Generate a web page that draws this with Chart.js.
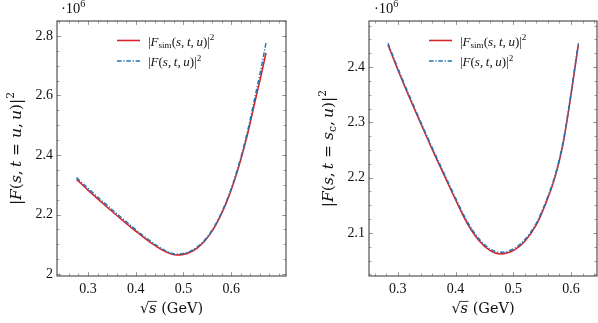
<!DOCTYPE html>
<html>
<head>
<meta charset="utf-8">
<script src="https://cdn.jsdelivr.net/npm/chart.js@4.4.0/dist/chart.umd.min.js"></script>
<style>
  html, body { margin: 0; padding: 0; background: #fff; }
  #wrap { position: relative; width: 598px; height: 323px; }
  canvas { position: absolute; top: 0; }
</style>
</head>
<body>
<div id="wrap">
  <canvas id="left" width="299" height="323" style="left:0"></canvas>
  <canvas id="right" width="299" height="323" style="left:299px"></canvas>
</div>
<script>
// Left panel: t = u
const leftX = [0.276, 0.30, 0.325, 0.35, 0.375, 0.40, 0.42, 0.44, 0.455, 0.465, 0.475, 0.485, 0.50, 0.515, 0.53, 0.545, 0.56, 0.575, 0.59, 0.605, 0.62, 0.635, 0.65, 0.662, 0.673];
const leftSim = [2.318, 2.282, 2.246, 2.211, 2.177, 2.144, 2.119, 2.096, 2.081, 2.073, 2.067, 2.064, 2.066, 2.074, 2.089, 2.112, 2.144, 2.187, 2.240, 2.305, 2.383, 2.474, 2.580, 2.662, 2.743];
const leftFull = [2.324, 2.288, 2.252, 2.217, 2.183, 2.149, 2.124, 2.100, 2.085, 2.076, 2.070, 2.067, 2.069, 2.077, 2.092, 2.115, 2.147, 2.190, 2.244, 2.310, 2.390, 2.484, 2.595, 2.685, 2.776];

// Right panel: t = s_c
const rightX = [0.283, 0.298, 0.32, 0.34, 0.36, 0.38, 0.40, 0.42, 0.44, 0.46, 0.477, 0.50, 0.52, 0.54, 0.555, 0.572, 0.585, 0.5926, 0.600, 0.607, 0.6127];
const rightSim = [2.440, 2.400, 2.345, 2.297, 2.250, 2.205, 2.160, 2.118, 2.087, 2.068, 2.062, 2.068, 2.085, 2.115, 2.150, 2.200, 2.255, 2.300, 2.350, 2.400, 2.440];
const rightFull = [2.443, 2.403, 2.348, 2.300, 2.253, 2.208, 2.163, 2.121, 2.090, 2.071, 2.065, 2.071, 2.088, 2.118, 2.153, 2.203, 2.258, 2.303, 2.353, 2.403, 2.443];

// tick labels
const leftXTicks = [0.3, 0.4, 0.5, 0.6];
const leftYTicks = [2, 2.2, 2.4, 2.6, 2.8];
const leftYLabels = ['2', '2.2', '2.4', '2.6', '2.8'];
const rightXTicks = [0.3, 0.4, 0.5, 0.6];
const rightYTicks = [2.1, 2.2, 2.3, 2.4];
const rightYLabels = ['2.1', '2.2', '2.3', '2.4'];

const RED = '#d7262c';
const BLUE = '#1f77b4';
const SERIF = '"Liberation Serif", "DejaVu Serif", serif';
const WIDE = '"DejaVu Serif", serif';

function range(a, b, step) {
  const out = [];
  for (let v = a; v <= b + 1e-9; v += step) out.push(Math.round(v * 1000) / 1000);
  return out;
}

// math text as pieces: [text, kind] with kind r / i / sub / sup
function fontFor(k, size, fam) {
  const fs = (k === 'sub' || k === 'sup') ? size * 0.7 : size;
  return (k === 'i' ? 'italic ' : '') + fs + 'px ' + fam;
}
function mathWidth(ctx, parts, size, fam) {
  let w = 0;
  for (const [t, k] of parts) {
    ctx.font = fontFor(k, size, fam);
    w += ctx.measureText(t).width;
  }
  return w;
}
function drawMath(ctx, parts, x, y, size, fam) {
  let cx = x;
  for (const [t, k] of parts) {
    let dy = 0;
    if (k === 'sub') dy = size * 0.22;
    if (k === 'sup') dy = -size * 0.42;
    ctx.font = fontFor(k, size, fam);
    ctx.fillText(t, cx, y + dy);
    cx += ctx.measureText(t).width;
  }
  return cx - x;
}

const legendSim = [['|', 'r'], ['F', 'i'], ['sim', 'sub'], ['(', 'r'], ['s', 'i'], [',\u2009', 'r'], ['t', 'i'], [',\u2009', 'r'], ['u', 'i'], [')|', 'r'], ['2', 'sup']];
const legendFull = [['|', 'r'], ['F', 'i'], ['(', 'r'], ['s', 'i'], [',\u2009', 'r'], ['t', 'i'], [',\u2009', 'r'], ['u', 'i'], [')|', 'r'], ['2', 'sup']];

function decor(o) {
  return {
    id: 'decor',
    afterDraw(chart) {
      const { ctx, chartArea: a, scales: { x, y } } = chart;
      ctx.save();
      // ticks inside the frame on all four sides
      ctx.strokeStyle = '#8a8a8a';
      ctx.lineWidth = 0.8;
      const tick = (vals, len) => {
        ctx.beginPath();
        vals.forEach(v => {
          if (v < x.min || v > x.max) return;
          const p = Math.round(x.getPixelForValue(v)) + 0.5;
          ctx.moveTo(p, a.bottom); ctx.lineTo(p, a.bottom - len);
          ctx.moveTo(p, a.top); ctx.lineTo(p, a.top + len);
        });
        ctx.stroke();
      };
      const ytick = (vals, len) => {
        ctx.beginPath();
        vals.forEach(v => {
          if (v < y.min || v > y.max) return;
          const p = Math.round(y.getPixelForValue(v)) + 0.5;
          ctx.moveTo(a.left, p); ctx.lineTo(a.left + len, p);
          ctx.moveTo(a.right, p); ctx.lineTo(a.right - len, p);
        });
        ctx.stroke();
      };
      tick(o.xMinor, 2.5); tick(o.xMajor, 4);
      ytick(o.yMinor, 2.5); ytick(o.yMajor, 4);

      // frame
      ctx.strokeStyle = '#444';
      ctx.lineWidth = 1.1;
      ctx.strokeRect(a.left, a.top, a.right - a.left, a.bottom - a.top);

      ctx.fillStyle = '#111';
      ctx.textBaseline = 'alphabetic';
      ctx.textAlign = 'left';

      // multiplier
      drawMath(ctx, [['\u00b710', 'r'], ['6', 'sup']], o.multX, 13, 14.5, SERIF);

      // y title
      ctx.save();
      ctx.translate(o.yTitleX, (a.top + a.bottom) / 2);
      ctx.rotate(-Math.PI / 2);
      const yw = mathWidth(ctx, o.yTitle, 15.5, WIDE);
      drawMath(ctx, o.yTitle, -yw / 2, 0, 15.5, WIDE);
      ctx.restore();

      // x title: sqrt(s) (GeV)
      const xs = 14.5;
      const xparts = [['\u221a', 'r'], ['s', 'i'], [' (GeV)', 'r']];
      const xw = mathWidth(ctx, xparts, xs, WIDE);
      const x0 = (a.left + a.right) / 2 - xw / 2;
      ctx.font = xs + 'px ' + WIDE;
      const rw = ctx.measureText('\u221a').width;
      ctx.font = 'italic ' + xs + 'px ' + WIDE;
      const sw = ctx.measureText('s').width;
      drawMath(ctx, xparts, x0, 313, xs, WIDE);
      ctx.strokeStyle = '#111';
      ctx.lineWidth = 0.8;
      ctx.beginPath();
      ctx.moveTo(x0 + rw - 0.8, 313 - xs * 0.8);
      ctx.lineTo(x0 + rw + sw + 0.5, 313 - xs * 0.8);
      ctx.stroke();

      // legend
      ctx.lineWidth = 1.6;
      ctx.strokeStyle = RED;
      ctx.setLineDash([]);
      ctx.beginPath(); ctx.moveTo(o.legX, 40.5); ctx.lineTo(o.legX + 23, 40.5); ctx.stroke();
      ctx.strokeStyle = BLUE;
      ctx.setLineDash([4.5, 1.8, 1.2, 1.8]);
      ctx.beginPath(); ctx.moveTo(o.legX, 61); ctx.lineTo(o.legX + 23, 61); ctx.stroke();
      ctx.setLineDash([]);
      drawMath(ctx, legendSim, o.legX + 31, 45.5, 13, SERIF);
      drawMath(ctx, legendFull, o.legX + 31, 66, 13, SERIF);
      ctx.restore();
    }
  };
}

function makeChart(id, xs, sim, full, sc) {
  const pts = arr => xs.map((x, i) => ({ x: x, y: arr[i] }));
  return new Chart(document.getElementById(id), {
    type: 'line',
    data: {
      datasets: [
        { label: 'full', data: pts(full), borderColor: BLUE, borderWidth: 1.5, borderDash: [4.5, 1.8, 1.2, 1.8], pointRadius: 0, cubicInterpolationMode: 'monotone', order: 0 },
        { label: 'sim', data: pts(sim), borderColor: RED, borderWidth: 1.6, pointRadius: 0, cubicInterpolationMode: 'monotone', order: 1 }
      ]
    },
    options: {
      responsive: false,
      animation: false,
      layout: { padding: { top: 21, right: sc.padRight, left: 0, bottom: 0 } },
      plugins: { legend: { display: false }, tooltip: { enabled: false } },
      scales: {
        x: {
          type: 'linear', min: sc.xMin, max: sc.xMax,
          afterBuildTicks: s => { s.ticks = sc.xMajor.map(v => ({ value: v })); },
          afterFit: s => { s.height = 47; },
          grid: { display: false, drawTicks: false, tickLength: 0 }, border: { display: false },
          ticks: { padding: 5, color: '#111', font: { family: SERIF, size: 14 }, maxRotation: 0, autoSkip: false,
            callback: v => String(v) }
        },
        y: {
          type: 'linear', min: sc.yMin, max: sc.yMax,
          afterBuildTicks: s => { s.ticks = sc.yMajor.map(v => ({ value: v })); },
          afterFit: s => { s.width = sc.yWidth; },
          grid: { display: false, drawTicks: false, tickLength: 0 }, border: { display: false },
          ticks: { padding: 4, color: '#111', font: { family: SERIF, size: 14 }, autoSkip: false,
            callback: v => sc.yLabels[sc.yMajor.indexOf(v)] }
        }
      }
    },
    plugins: [decor(sc)]
  });
}

makeChart('left', leftX, leftSim, leftFull, {
  xMin: 0.235, xMax: 0.715, yMin: 1.9933, yMax: 2.8504,
  xMajor: leftXTicks, yMajor: leftYTicks, yLabels: leftYLabels,
  xMinor: range(0.24, 0.70, 0.02), yMinor: range(2.0, 2.85, 0.05),
  yWidth: 57, padRight: 13,
  multX: 61, yTitleX: 21, legX: 117,
  yTitle: [['|', 'r'], ['F', 'i'], ['(', 'r'], ['s', 'i'], [',\u2009', 'r'], ['t', 'i'], [' = ', 'r'], ['u', 'i'], [',\u2009', 'r'], ['u', 'i'], [')|', 'r'], ['2', 'sup']]
});

makeChart('right', rightX, rightSim, rightFull, {
  xMin: 0.25, xMax: 0.645, yMin: 2.0222, yMax: 2.4832,
  xMajor: rightXTicks, yMajor: rightYTicks, yLabels: rightYLabels,
  xMinor: range(0.26, 0.64, 0.02), yMinor: range(2.025, 2.475, 0.025),
  yWidth: 70, padRight: 1,
  multX: 75, yTitleX: 34, legX: 130,
  yTitle: [['|', 'r'], ['F', 'i'], ['(', 'r'], ['s', 'i'], [',\u2009', 'r'], ['t', 'i'], [' = ', 'r'], ['s', 'i'], ['c', 'sub'], [',\u2009', 'r'], ['u', 'i'], [')|', 'r'], ['2', 'sup']]
});
</script>
</body>
</html>
